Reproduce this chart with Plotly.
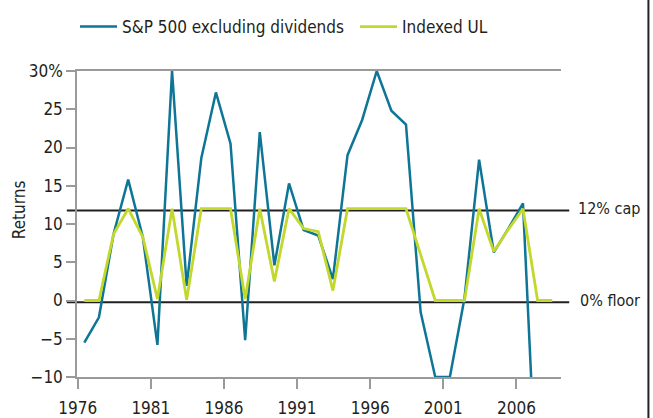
import plotly.graph_objects as go

years = list(range(1976, 2009))
sp500 = [-5.5, -2.2, 8.7, 15.8, 8.3, -5.8, 30.0, 1.9, 18.6, 27.2, 20.5, -5.2, 22.0,
         4.6, 15.3, 9.2, 8.5, 2.8, 19.0, 23.6, 30.0, 24.8, 23.0, -1.5, -10.0, -10.0,
         0.3, 18.4, 6.3, 9.4, 12.7, -28.0]
indexed_ul = [0.0, 0.0, 8.7, 12.0, 8.3, 0.2, 12.0, 0.1, 12.0, 12.0, 12.0, 0.2, 12.0,
              2.5, 12.0, 9.4, 9.0, 1.3, 12.0, 12.0, 12.0, 12.0, 12.0, 6.0, 0.0, 0.0,
              0.0, 12.0, 6.4, 9.3, 12.0, 0.0, 0.0]
tick_years = [1976, 1981, 1986, 1991, 1996, 2001, 2006]
y_ticks = [-10, -5, 0, 5, 10, 15, 20, 25, 30]
y_ticktext = ["\u221210", "\u22125", "0", "5", "10", "15", "20", "25", "30%"]
cap, floor = 12, 0

FONT = "DejaVu Sans Condensed, Liberation Sans Narrow, sans-serif"
FS = 17
TXT = "#231f20"
BLUE = "#0f7597"
GREEN = "#c2d82c"
GRAY = "#9a9a9a"

mid = 0.45  # points plotted mid-year
fig = go.Figure()
fig.add_trace(go.Scatter(x=[y + mid for y in years[:len(sp500)]], y=sp500, mode="lines",
                         name="S&P 500 excluding dividends", legend="legend",
                         line=dict(color=BLUE, width=2.5)))
fig.add_trace(go.Scatter(x=[y + mid for y in years[:len(indexed_ul)]], y=indexed_ul, mode="lines",
                         name="Indexed UL", legend="legend2",
                         line=dict(color=GREEN, width=2.8)))

for lvl in (cap, floor):
    fig.add_shape(type="line", xref="paper", yref="y", x0=-0.021, x1=1.017,
                  ysizemode="pixel", yanchor=lvl, y0=-1.8, y1=-1.8,
                  line=dict(color=TXT, width=2), layer="below")

fig.add_annotation(x=1.031, y=cap, xref="paper", yref="y", text="12% cap", showarrow=False,
                   xanchor="left", yanchor="middle", font=dict(family=FONT, size=16, color=TXT))
fig.add_annotation(x=1.036, y=floor, xref="paper", yref="y", text="0% floor", showarrow=False,
                   xanchor="left", yanchor="middle", font=dict(family=FONT, size=16, color=TXT))
fig.add_annotation(x=-0.12, y=0.548, xref="paper", yref="paper", text="Returns", showarrow=False,
                   textangle=-90, xanchor="center", yanchor="middle",
                   font=dict(family=FONT, size=FS, color=TXT))
# page border line on the right
fig.add_shape(type="line", xref="paper", yref="paper", x0=1.1806, x1=1.1806, y0=-0.2, y1=1.3,
              line=dict(color="#222222", width=2))

legend_common = dict(orientation="h", xref="container", yref="container",
                     xanchor="left", y=1 - 27 / 418, yanchor="middle",
                     font=dict(family=FONT, size=FS, color=TXT), itemwidth=37,
                     bgcolor="rgba(0,0,0,0)")

fig.update_layout(
    width=653, height=418,
    margin=dict(l=77, r=92, t=71, b=41, autoexpand=False),
    paper_bgcolor="white", plot_bgcolor="white",
    font=dict(family=FONT, size=FS, color=TXT),
    showlegend=True,
    legend=dict(x=75 / 653, **legend_common),
    legend2=dict(x=355 / 653, **legend_common),
    xaxis=dict(range=[1975.95, 2009.05], tickvals=tick_years,
               ticktext=[str(t) for t in tick_years],
               showgrid=False, zeroline=False, showline=True, mirror=True,
               linecolor=GRAY, linewidth=1.5, ticks="outside", ticklen=10,
               tickcolor=GRAY, tickwidth=1.5, ticklabelstandoff=5,
               tickfont=dict(family=FONT, size=FS, color=TXT)),
    yaxis=dict(range=[-10, 30], tickvals=y_ticks, ticktext=y_ticktext,
               showgrid=False, zeroline=False, showline=True,
               linecolor=GRAY, linewidth=1.5, ticks="outside", ticklen=9,
               tickcolor=GRAY, tickwidth=1.5,
               tickfont=dict(family=FONT, size=FS, color=TXT)),
)

fig.write_html("out.html", config={"displayModeBar": False},
               post_script="document.body.style.margin='0';")
